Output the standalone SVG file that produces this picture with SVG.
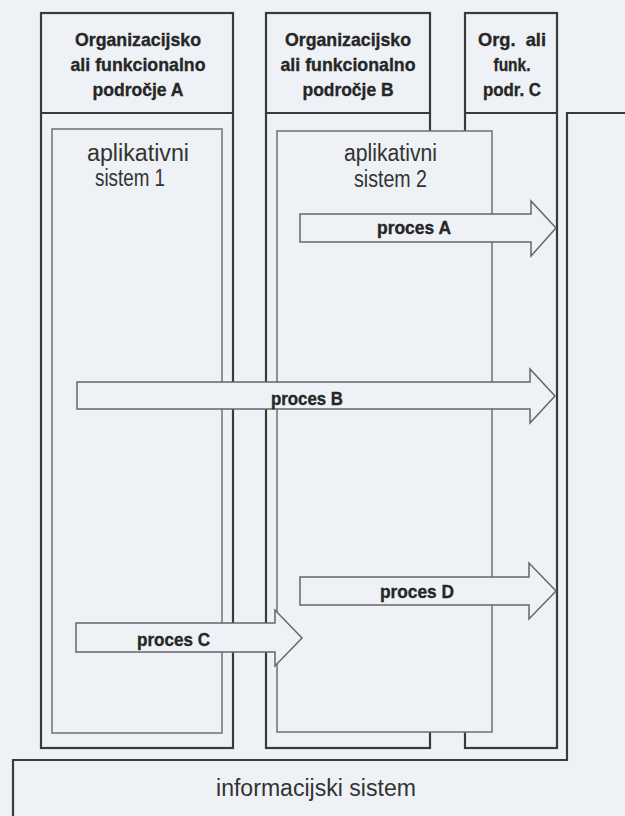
<svg xmlns="http://www.w3.org/2000/svg" width="625" height="816" viewBox="0 0 625 816">
<style>
.bg{fill:#eef1f5}
.col{fill:#eef1f5;stroke:#3a3a3a;stroke-width:2.2}
.div{stroke:#3a3a3a;stroke-width:2}
.sys{fill:#eef1f5;stroke:#707070;stroke-width:1.5}
.arr{fill:#eef1f5;stroke:#666;stroke-width:1.5;stroke-linejoin:miter}
.hd{font-family:"Liberation Sans",Arial,sans-serif;font-weight:bold;font-size:19px;fill:#262626;stroke:#262626;stroke-width:0.35;text-anchor:middle}
.pr{font-family:"Liberation Sans",Arial,sans-serif;font-weight:bold;font-size:18.5px;fill:#262626;stroke:#262626;stroke-width:0.35}
.lb{font-family:"Liberation Sans",Arial,sans-serif;font-size:23px;fill:#333}
.info{fill:none;stroke:#3a3a3a;stroke-width:2.2}
</style>
<rect class="bg" x="0" y="0" width="625" height="816"/>

<g id="infosistem">
<path class="info" d="M13,816 V760 H567 V113 H625"/>
<text class="lb" x="216" y="796" textLength="200" lengthAdjust="spacingAndGlyphs">informacijski sistem</text>
</g>

<g id="podrocjeA">
<rect class="col" x="41" y="13" width="192" height="735"/>
<line class="div" x1="41" y1="113" x2="233" y2="113"/>
<text class="hd" x="138" y="46" textLength="126" lengthAdjust="spacingAndGlyphs">Organizacijsko</text>
<text class="hd" x="138" y="71" textLength="135" lengthAdjust="spacingAndGlyphs">ali funkcionalno</text>
<text class="hd" x="138" y="96" textLength="91" lengthAdjust="spacingAndGlyphs">področje A</text>
</g>

<g id="podrocjeB">
<rect class="col" x="266" y="13" width="164" height="735"/>
<line class="div" x1="266" y1="113" x2="430" y2="113"/>
<text class="hd" x="348" y="46" textLength="126" lengthAdjust="spacingAndGlyphs">Organizacijsko</text>
<text class="hd" x="348" y="71" textLength="135" lengthAdjust="spacingAndGlyphs">ali funkcionalno</text>
<text class="hd" x="348" y="96" textLength="91" lengthAdjust="spacingAndGlyphs">področje B</text>
</g>

<g id="podrocjeC">
<rect class="col" x="465" y="13" width="92" height="735"/>
<line class="div" x1="465" y1="113" x2="557" y2="113"/>
<text class="hd" x="512" y="46" textLength="68" lengthAdjust="spacingAndGlyphs" style="white-space:pre">Org.  ali</text>
<text class="hd" x="512" y="71" textLength="37" lengthAdjust="spacingAndGlyphs">funk.</text>
<text class="hd" x="512" y="96" textLength="58" lengthAdjust="spacingAndGlyphs">podr. C</text>
</g>

<g id="sistem1">
<rect class="sys" x="52" y="129" width="170" height="604"/>
<text class="lb" x="87" y="161" textLength="102" lengthAdjust="spacingAndGlyphs">aplikativni</text>
<text class="lb" x="95" y="186" textLength="70" lengthAdjust="spacingAndGlyphs">sistem 1</text>
</g>

<g id="sistem2">
<rect class="sys" x="277" y="131" width="215" height="601"/>
<text class="lb" x="344" y="161" textLength="93" lengthAdjust="spacingAndGlyphs">aplikativni</text>
<text class="lb" x="354" y="187" textLength="73" lengthAdjust="spacingAndGlyphs">sistem 2</text>
</g>

<g id="connectors">
<g id="procesA">
<polygon class="arr" points="300,214 531,214 531,201 556,228 531,256 531,242 300,242"/>
<text class="pr" x="377" y="234" textLength="74" lengthAdjust="spacingAndGlyphs">proces A</text>
</g>
<g id="procesB">
<polygon class="arr" points="77,382 530,382 530,369 555,396 530,423 530,409 77,409"/>
<text class="pr" x="271" y="405" textLength="72" lengthAdjust="spacingAndGlyphs">proces B</text>
</g>
<g id="procesD">
<polygon class="arr" points="300,577 529,577 529,563 556,591 529,619 529,605 300,605"/>
<text class="pr" x="380" y="598" textLength="74" lengthAdjust="spacingAndGlyphs">proces D</text>
</g>
<g id="procesC">
<polygon class="arr" points="76,623 275,623 275,610 302,638 275,666 275,652 76,652"/>
<text class="pr" x="137" y="646" textLength="73" lengthAdjust="spacingAndGlyphs">proces C</text>
</g>
</g>
</svg>
